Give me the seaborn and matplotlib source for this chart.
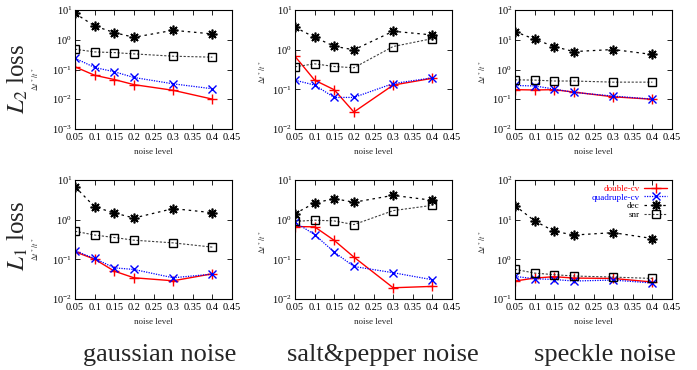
import numpy as np
import pandas as pd
import matplotlib
matplotlib.use("Agg")
import matplotlib.pyplot as plt
import seaborn as sns

sns.set_theme(style="ticks")
plt.rcParams['font.family'] = ['Liberation Serif', 'DejaVu Serif']
plt.rcParams['mathtext.fontset'] = 'stix'

noise = [0.05, 0.1, 0.15, 0.2, 0.3, 0.4]
xticks = [0.05, 0.1, 0.15, 0.2, 0.25, 0.3, 0.35, 0.4, 0.45]
xticklabels = ["0.05", "0.1", "0.15", "0.2", "0.25", "0.3", "0.35", "0.4", "0.45"]
series_names = ["double-cv", "quadruple-cv", "dec", "snr"]
row_labels = [r"$L_2$ loss", r"$L_1$ loss"]
col_labels = ["gaussian noise", "salt&pepper noise", "speckle noise"]

# L2 loss row
l2_gauss_double = [0.123, 0.064, 0.046, 0.031, 0.020, 0.0101]
l2_gauss_quad = [0.24, 0.117, 0.084, 0.054, 0.033, 0.0225]
l2_gauss_dec = [7.7, 2.9, 1.74, 1.21, 2.08, 1.57]
l2_gauss_snr = [0.48, 0.39, 0.37, 0.335, 0.28, 0.26]

l2_sp_double = [0.68, 0.17, 0.0975, 0.0268, 0.128, 0.19]
l2_sp_quad = [0.17, 0.128, 0.0625, 0.0625, 0.14, 0.195]
l2_sp_dec = [3.67, 2.05, 1.22, 0.99, 2.91, 2.35]
l2_sp_snr = [0.37, 0.44, 0.376, 0.35, 1.2, 1.9]

l2_spk_double = [0.21, 0.205, 0.21, 0.174, 0.121, 0.1]
l2_spk_quad = [0.29, 0.28, 0.22, 0.17, 0.128, 0.101]
l2_spk_dec = [18.8, 10.4, 5.9, 4.0, 4.7, 3.2]
l2_spk_snr = [0.45, 0.44, 0.41, 0.41, 0.376, 0.376]

# L1 loss row
l1_gauss_double = [0.155, 0.101, 0.0505, 0.0343, 0.0288, 0.0432]
l1_gauss_quad = [0.164, 0.105, 0.061, 0.0556, 0.0343, 0.0424]
l1_gauss_dec = [6.8, 2.1, 1.48, 1.1, 1.9, 1.5]
l1_gauss_snr = [0.51, 0.41, 0.355, 0.304, 0.26, 0.203]

l1_sp_double = [0.67, 0.66, 0.30, 0.114, 0.0192, 0.0208]
l1_sp_quad = [0.86, 0.42, 0.152, 0.066, 0.046, 0.0306]
l1_sp_dec = [1.42, 2.63, 3.39, 2.75, 4.1, 3.08]
l1_sp_snr = [0.9, 0.97, 0.93, 0.75, 1.69, 2.3]

l1_spk_double = [0.284, 0.337, 0.365, 0.337, 0.33, 0.268]
l1_spk_quad = [0.37, 0.325, 0.31, 0.284, 0.30, 0.253]
l1_spk_dec = [22.6, 9.3, 5.1, 4.1, 4.7, 3.35]
l1_spk_snr = [0.56, 0.45, 0.41, 0.38, 0.357, 0.33]

panels = [
    [(l2_gauss_double, l2_gauss_quad, l2_gauss_dec, l2_gauss_snr, (1e-3, 1e1)),
     (l2_sp_double, l2_sp_quad, l2_sp_dec, l2_sp_snr, (1e-2, 1e1)),
     (l2_spk_double, l2_spk_quad, l2_spk_dec, l2_spk_snr, (1e-2, 1e2))],
    [(l1_gauss_double, l1_gauss_quad, l1_gauss_dec, l1_gauss_snr, (1e-2, 1e1)),
     (l1_sp_double, l1_sp_quad, l1_sp_dec, l1_sp_snr, (1e-2, 1e1)),
     (l1_spk_double, l1_spk_quad, l1_spk_dec, l1_spk_snr, (1e-1, 1e2))],
]

styles = {
    "double-cv": dict(color="#ff0000", marker="+", linestyle="-", markersize=7,
                      markeredgewidth=1.0, linewidth=1.0, markeredgecolor="#ff0000"),
    "quadruple-cv": dict(color="#0000ff", marker="x", linestyle=(0, (1, 1)), markersize=6,
                         markeredgewidth=1.0, linewidth=0.9, markeredgecolor="#0000ff"),
    "dec": dict(color="#000000", marker=(8, 2, 0), linestyle=(0, (2, 3)), markersize=7,
                markeredgewidth=1.2, linewidth=0.9, markeredgecolor="#000000"),
    "snr": dict(color="#404040", marker="s", linestyle=(0, (2, 1.5)), markersize=6,
                markeredgewidth=1.0, linewidth=0.8, markerfacecolor="none",
                markeredgecolor="#000000"),
}

fig = plt.figure(figsize=(6.97, 3.70), dpi=100)
W, H = 697.0, 370.0
lefts = [75, 295, 515]
tops = [10, 180]
aw, ah = 157, 119
ylabel_x = [-0.215, -0.17, -0.17]
ylabel_y = [0.42, 0.48, 0.48]

for r in range(2):
    for c in range(3):
        ax = fig.add_axes([lefts[c] / W, 1 - (tops[r] + ah) / H, aw / W, ah / H])
        d, q, dc, s, ylim = panels[r][c]
        for name, vals in zip(series_names, [d, q, dc, s]):
            st = dict(styles[name])
            ls = st.pop("linestyle")
            sns.lineplot(x=noise, y=vals, ax=ax, label=name, legend=False, **st)
            ax.lines[-1].set_linestyle(ls)
        ax.set_yscale("log")
        ax.set_ylim(*ylim)
        ax.set_xlim(0.05, 0.45)
        ax.set_xticks(xticks)
        ax.set_xticklabels(xticklabels)
        ax.minorticks_off()
        ax.tick_params(direction="in", top=True, right=True, length=3.5, width=0.6,
                       labelsize=7.5, pad=2, colors="black")
        ax.tick_params(axis="x", pad=3)
        for sp in ax.spines.values():
            sp.set_linewidth(0.8)
            sp.set_color("black")
        ax.set_xlabel("noise level", fontsize=6.5, labelpad=4)
        ax.set_ylabel(r"$\Delta t^*/t^*$", fontsize=5.5)
        ax.yaxis.set_label_coords(ylabel_x[c], ylabel_y[c])
        if r == 1 and c == 2:
            handles = ax.lines[:4]
            leg = ax.legend(handles, series_names, loc="upper right", frameon=False,
                            markerfirst=False, fontsize=6.5, handlelength=2.6,
                            handletextpad=0.5, labelspacing=0.05, borderaxespad=0.1,
                            alignment="right")
            for t, col in zip(leg.get_texts(), ["#ff0000", "#0000ff", "black", "black"]):
                t.set_color(col)

fig.text(18 / W, 1 - 79 / H, row_labels[0], rotation=90, ha="center", va="center", fontsize=18)
fig.text(18 / W, 1 - 236 / H, row_labels[1], rotation=90, ha="center", va="center", fontsize=18)
for xc, lab in zip([160, 383, 605], col_labels):
    fig.text(xc / W, 1 - 361 / H, lab, ha="center", va="baseline", fontsize=19)

fig.savefig("out.png", dpi=100)
